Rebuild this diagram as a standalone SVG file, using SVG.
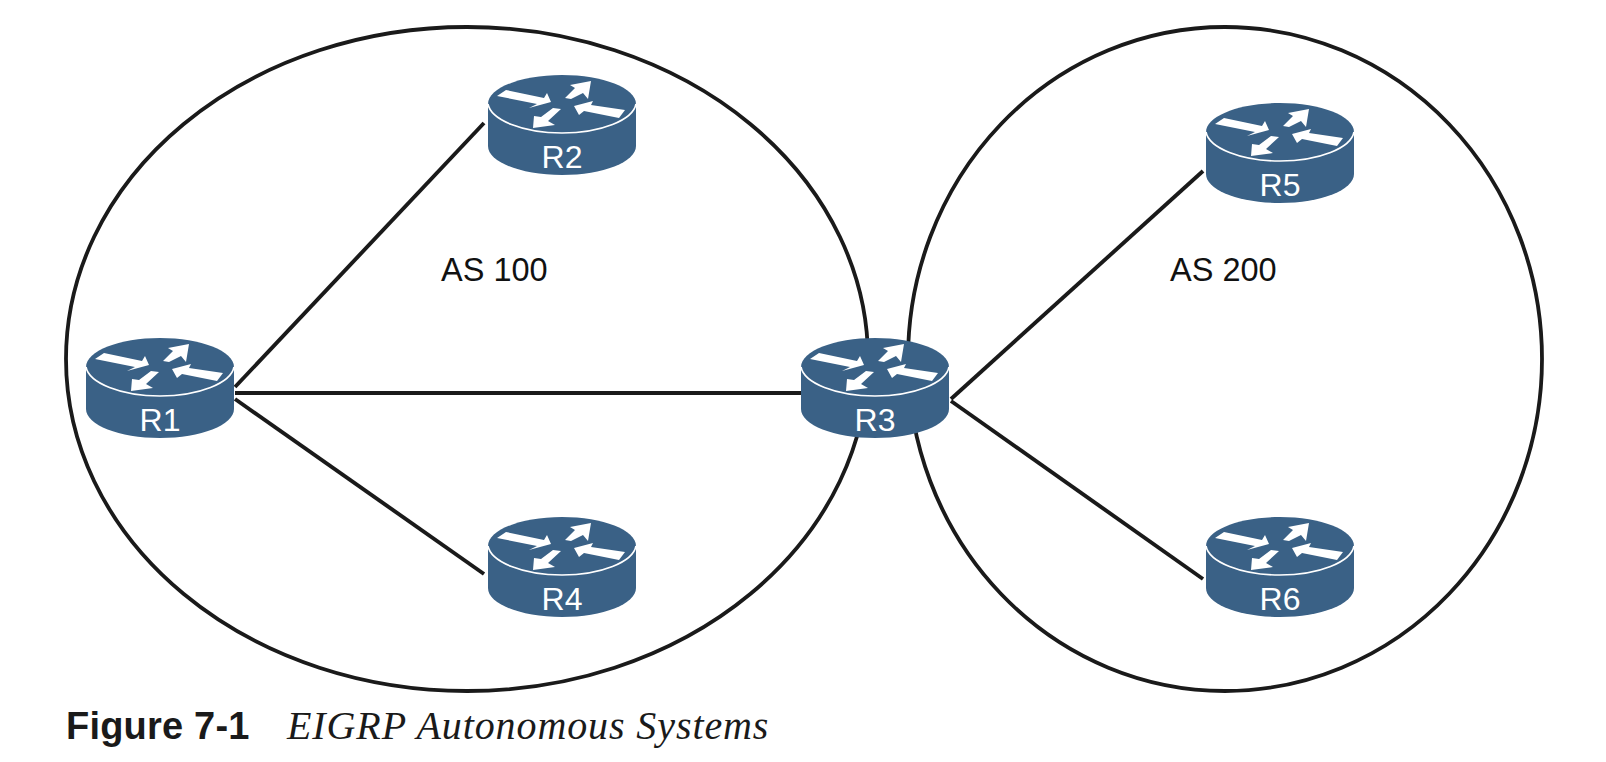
<svg xmlns="http://www.w3.org/2000/svg" width="1606" height="762" viewBox="0 0 1606 762">
<style>
.as{fill:none;stroke:#1a1a1a;stroke-width:3.8}
.link{stroke:#1a1a1a;stroke-width:3.9;fill:none}
.body{fill:#3a6186}
.ring{fill:none;stroke:#fff;stroke-width:1.6}
.arrow{fill:#fff}
.rl{font:32px "Liberation Sans",Arial,sans-serif;fill:#fff;text-anchor:middle}
.lbl{font:32.5px "Liberation Sans",Arial,sans-serif;fill:#111}
.figA{font:bold 38px "Liberation Sans",Arial,sans-serif;fill:#1a1a1a;letter-spacing:.2px}
.figB{font:italic 40px "Liberation Serif","Times New Roman",serif;fill:#1a1a1a;letter-spacing:.9px}
</style>
<defs>
<g id="router">
<path class="body" d="M0 29C0 13 33 0 74 0S148 13 148 29V71C148 87 115 100 74 100S0 87 0 71Z"/>
<path class="ring" d="M0 29C3 45 35 58 74 58S145 45 148 29"/>
<polygon class="arrow" points="18,15 56,23 59,18 63,27 41,33 49,29 9,21"/>
<polygon class="arrow" points="77,23 87,13 82,10 103,6 100,24 95,18 83,24"/>
<polygon class="arrow" points="137,35 103,30 105,26 86,31 91,40 96,36 131,43"/>
<polygon class="arrow" points="73,34 65,33 53,42 46,41 45,53 67,50 60,46"/>
</g>
</defs>
<g id="connectors">
<ellipse class="as" cx="467" cy="359" rx="401" ry="332"/>
<ellipse class="as" cx="1225" cy="359" rx="317" ry="332"/>
<line class="link" x1="235" y1="387" x2="484" y2="123"/>
<line class="link" x1="235" y1="393" x2="801" y2="393"/>
<line class="link" x1="235" y1="399" x2="484" y2="574"/>
<line class="link" x1="951" y1="399" x2="1203" y2="171"/>
<line class="link" x1="951" y1="401" x2="1203" y2="579"/>
</g>
<g id="R1"><use href="#router" x="86" y="338"/><text class="rl" x="160" y="431">R1</text></g>
<g id="R2"><use href="#router" x="488" y="75"/><text class="rl" x="562" y="168">R2</text></g>
<g id="R3"><use href="#router" x="801" y="338"/><text class="rl" x="875" y="431">R3</text></g>
<g id="R4"><use href="#router" x="488" y="517"/><text class="rl" x="562" y="610">R4</text></g>
<g id="R5"><use href="#router" x="1206" y="103"/><text class="rl" x="1280" y="196">R5</text></g>
<g id="R6"><use href="#router" x="1206" y="517"/><text class="rl" x="1280" y="610">R6</text></g>
<text class="lbl" x="441" y="281">AS 100</text>
<text class="lbl" x="1170" y="281">AS 200</text>
<text class="figA" x="66" y="739">Figure 7-1</text>
<text class="figB" x="287" y="739">EIGRP Autonomous Systems</text>
</svg>
